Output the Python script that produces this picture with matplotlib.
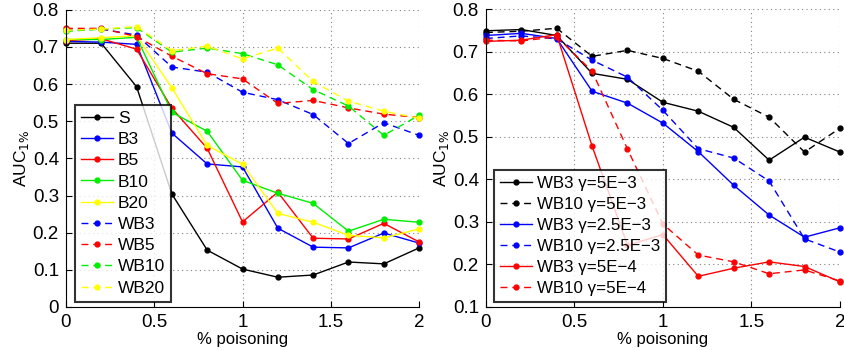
import numpy as np
import matplotlib
matplotlib.use("Agg")
import matplotlib.pyplot as plt
from matplotlib.ticker import FuncFormatter

plt.rcParams['font.family'] = ['Liberation Sans', 'DejaVu Sans']
plt.rcParams['font.size'] = 10

# % poisoning
x = [0, 0.2, 0.4, 0.6, 0.8, 1.0, 1.2, 1.4, 1.6, 1.8, 2.0]

# --- panel izquierdo ---
S = [0.710, 0.710, 0.593, 0.304, 0.153, 0.102, 0.080, 0.086, 0.121, 0.116, 0.159]
B3 = [0.715, 0.713, 0.707, 0.468, 0.385, 0.377, 0.212, 0.161, 0.159, 0.199, 0.172]
B5 = [0.717, 0.722, 0.694, 0.535, 0.427, 0.229, 0.309, 0.185, 0.183, 0.225, 0.175]
B10 = [0.720, 0.720, 0.726, 0.524, 0.473, 0.341, 0.306, 0.279, 0.204, 0.236, 0.228]
B20 = [0.720, 0.725, 0.730, 0.590, 0.435, 0.384, 0.252, 0.228, 0.193, 0.186, 0.210]
WB3 = [0.745, 0.748, 0.732, 0.646, 0.632, 0.578, 0.558, 0.518, 0.440, 0.496, 0.462]
WB5 = [0.750, 0.750, 0.728, 0.675, 0.628, 0.614, 0.548, 0.556, 0.536, 0.519, 0.510]
WB10 = [0.742, 0.748, 0.752, 0.686, 0.697, 0.682, 0.652, 0.585, 0.541, 0.462, 0.516]
WB20 = [0.745, 0.748, 0.755, 0.690, 0.702, 0.668, 0.697, 0.607, 0.554, 0.527, 0.508]

# --- panel derecho ---
WB3_g5e3 = [0.749, 0.752, 0.738, 0.649, 0.635, 0.581, 0.560, 0.522, 0.445, 0.499, 0.464]
WB10_g5e3 = [0.745, 0.748, 0.755, 0.689, 0.703, 0.684, 0.654, 0.588, 0.546, 0.464, 0.520]
WB3_g25e3 = [0.738, 0.743, 0.731, 0.607, 0.579, 0.532, 0.465, 0.386, 0.316, 0.264, 0.286]
WB10_g25e3 = [0.731, 0.737, 0.730, 0.680, 0.640, 0.562, 0.472, 0.450, 0.396, 0.260, 0.229]
WB3_g5e4 = [0.724, 0.727, 0.740, 0.478, 0.245, 0.270, 0.172, 0.191, 0.206, 0.195, 0.159]
WB10_g5e4 = [0.727, 0.725, 0.735, 0.654, 0.471, 0.295, 0.222, 0.206, 0.178, 0.187, 0.161]

left_series = [
    ("S", S, 'k', '-'), ("B3", B3, 'b', '-'), ("B5", B5, 'r', '-'),
    ("B10", B10, '#00ee00', '-'), ("B20", B20, '#ffff00', '-'),
    ("WB3", WB3, 'b', '--'), ("WB5", WB5, 'r', '--'),
    ("WB10", WB10, '#00ee00', '--'), ("WB20", WB20, '#ffff00', '--'),
]
right_series = [
    ("WB3 γ=5E\u22123", WB3_g5e3, 'k', '-'),
    ("WB10 γ=5E\u22123", WB10_g5e3, 'k', '--'),
    ("WB3 γ=2.5E\u22123", WB3_g25e3, 'b', '-'),
    ("WB10 γ=2.5E\u22123", WB10_g25e3, 'b', '--'),
    ("WB3 γ=5E\u22124", WB3_g5e4, 'r', '-'),
    ("WB10 γ=5E\u22124", WB10_g5e4, 'r', '--'),
]


def fmt(v, pos):
    s = f"{v:.1f}"
    return "0" if abs(v) < 1e-9 else s


def estilo_ejes(ax, ymin):
    ax.set_xlim(0, 2)
    ax.set_ylim(ymin, 0.8)
    ax.set_xticks([0, 0.5, 1, 1.5, 2])
    ax.set_xticklabels(["0", "0.5", "1", "1.5", "2"])
    ax.set_yticks(np.arange(ymin, 0.81, 0.1))
    ax.yaxis.set_major_formatter(FuncFormatter(fmt))
    ax.spines['top'].set_visible(False)
    ax.spines['right'].set_visible(False)
    ax.tick_params(direction='in', length=4, labelsize=13.5, pad=5)
    ax.grid(True, linestyle=(0, (1, 3)), color='#808080', linewidth=0.8)
    ax.set_axisbelow(True)
    ax.set_xlabel("% poisoning", fontsize=12, labelpad=1)
    ax.set_ylabel("AUC$_{1\\%}$", fontsize=12.5, labelpad=1)


fig = plt.figure(figsize=(8.45, 3.5), dpi=100)
ax1 = fig.add_axes([0.078, 0.123, 0.418, 0.849])
ax2 = fig.add_axes([0.575, 0.123, 0.419, 0.851])

for ax, series, ymin, lfs in [(ax1, left_series, 0.0, 12.5), (ax2, right_series, 0.1, 12.2)]:
    for nombre, vals, c, ls in series:
        ax.plot(x, vals, color=c, linestyle=ls if ls == '-' else (0, (5, 3.5)),
                linewidth=1.0, marker='o', markersize=3.5, label=nombre, clip_on=False)
    estilo_ejes(ax, ymin)
    leg = ax.legend(loc='lower left', bbox_to_anchor=(0.01, 0.0), fontsize=lfs,
                    frameon=True, fancybox=False, borderaxespad=0.3,
                    handlelength=1.85, labelspacing=0.35, borderpad=0.35, handletextpad=0.3)
    leg.get_frame().set_edgecolor('k')
    leg.get_frame().set_linewidth(1.5)

fig.savefig("out.png", dpi=100)
